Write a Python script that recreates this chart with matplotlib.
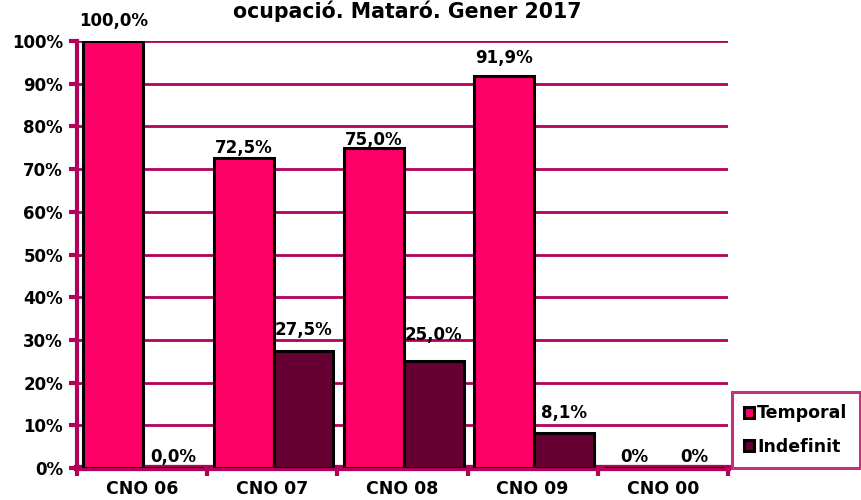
import numpy as np
import matplotlib.pyplot as plt
from matplotlib.ticker import FixedLocator

plt.rcParams['font.family'] = ['DejaVu Sans']
plt.rcParams['font.weight'] = 'bold'

categories = ["CNO 06", "CNO 07", "CNO 08", "CNO 09", "CNO 00"]
temporal = [100.0, 72.5, 75.0, 91.9, 0.0]
indefinit = [0.0, 27.5, 25.0, 8.1, 0.0]
temporal_labels = ["100,0%", "72,5%", "75,0%", "91,9%", "0%"]
indefinit_labels = ["0,0%", "27,5%", "25,0%", "8,1%", "0%"]

# label lift above each bar top, in points
temporal_lift = [11, 4, 2, 9, 4]
indefinit_lift = [4, 11, 15, 11, 4]

pink = "#FF0066"
maroon = "#660033"
grid_col = "#B3005A"

fig = plt.figure(figsize=(8.61, 5.0), dpi=100)
ax = fig.add_axes([0.0894, 0.064, 0.756, 0.854])

x = np.arange(len(categories))
w = 0.46
b1 = ax.bar(x - 0.22, temporal, w, color=pink, edgecolor="black", linewidth=2.2, zorder=3)
b2 = ax.bar(x + 0.24, indefinit, w, color=maroon, edgecolor="black", linewidth=2.2, zorder=3)

for bars, labels, vals, lifts in [(b1, temporal_labels, temporal, temporal_lift),
                                  (b2, indefinit_labels, indefinit, indefinit_lift)]:
    for rect, lab, v, dy in zip(bars, labels, vals, lifts):
        ax.annotate(lab, (rect.get_x() + rect.get_width() / 2, v), xytext=(0, dy),
                    textcoords="offset points", ha="center", va="baseline",
                    fontsize=12, fontweight="bold", annotation_clip=False, zorder=4)

ax.set_xlim(-0.5, len(categories) - 0.5)
ax.set_ylim(0, 100)
ax.set_yticks(range(0, 101, 10))
ax.set_yticklabels([f"{t}%" for t in range(0, 101, 10)])
ax.set_xticks(x)
ax.set_xticklabels(categories)
ax.xaxis.set_minor_locator(FixedLocator(np.arange(-0.5, len(categories), 1.0)))
ax.tick_params(axis="x", which="major", length=0, labelsize=12.5, pad=9)
ax.tick_params(axis="x", which="minor", length=6, width=3, color=grid_col)
ax.tick_params(axis="y", length=6, width=3, color=grid_col, labelsize=12, pad=4)
for t in ax.get_xticklabels() + ax.get_yticklabels():
    t.set_fontweight("bold")

ax.grid(axis="y", color=grid_col, linewidth=2, zorder=0)
ax.set_axisbelow(True)
for side in ["top", "right"]:
    ax.spines[side].set_visible(False)
ax.spines["left"].set_color(grid_col)
ax.spines["left"].set_linewidth(3)
ax.spines["bottom"].set_color(grid_col)
ax.spines["bottom"].set_linewidth(4.5)

fig.text(0.473, 0.965, "ocupació. Mataró. Gener 2017", ha="center", va="baseline",
         fontsize=14.8, fontweight="bold")

leg = fig.legend([b1, b2], ["Temporal", "Indefinit"], loc="lower left",
                 bbox_to_anchor=(0.850, 0.064), frameon=True, fancybox=False,
                 handlelength=0.6, handleheight=0.6, handletextpad=0.15,
                 borderpad=0.7, borderaxespad=0, labelspacing=0.9,
                 prop={"weight": "bold", "size": 12.5})
leg.get_frame().set_edgecolor(grid_col)
leg.get_frame().set_linewidth(2.2)

fig.savefig("out.png", dpi=100)
